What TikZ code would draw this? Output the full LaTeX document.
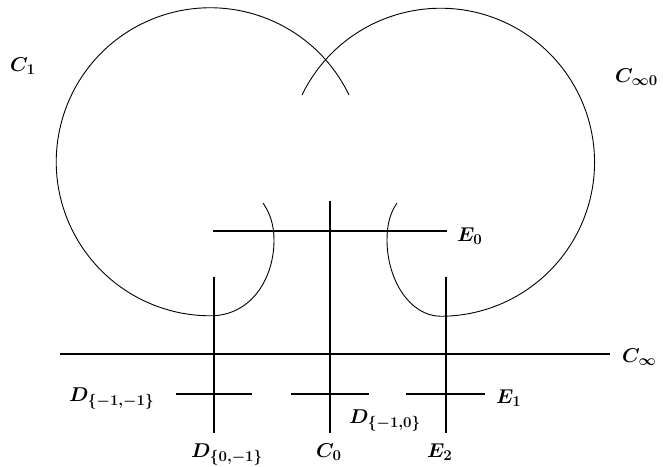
\RequirePackage{fix-cm}
\documentclass[tikz,border=0pt]{standalone}
\DeclareMathSizes{20}{20}{15}{12}
\begin{document}
\begin{tikzpicture}[x=1pt,y=1pt,
  curve/.style={line width=0.9pt},
  seg/.style={line width=1.1pt},
  lbl/.style={anchor=base west,inner sep=0pt,font=\fontsize{20}{22}\selectfont\boldmath}]
\useasboundingbox (0,0) rectangle (663,466);
% curves C_1 and C_{\infty 0}
\draw[curve] (349,371) arc[start angle=25.7,end angle=270,radius=154]
  .. controls (250,150) and (274,186) .. (274,226)
  .. controls (274,241) and (270,253) .. (263,263);
\draw[curve] (302,371) arc[start angle=154.1,end angle=-90,radius=154]
  .. controls (410,150) and (387,186) .. (387,226)
  .. controls (387,241) and (390,253) .. (397,263);
% coordinates
\coordinate (e0a) at (213,235); \coordinate (e0b) at (447,235);
\coordinate (c0t) at (330,265); \coordinate (c0b) at (330,33);
\coordinate (dlt) at (214,189); \coordinate (dlb) at (214,33);
\coordinate (e2t) at (446,189); \coordinate (e2b) at (446,33);
\coordinate (cia) at (60,112);  \coordinate (cib) at (610,112);
\coordinate (d1a) at (176,72);  \coordinate (d1b) at (252,72);
\coordinate (d2a) at (291,72);  \coordinate (d2b) at (369,72);
\coordinate (e1a) at (406,72);  \coordinate (e1b) at (485,72);
\draw[seg] (e0a) -- (e0b);
\draw[seg] (c0t) -- (c0b);
\draw[seg] (dlt) -- (dlb);
\draw[seg] (e2t) -- (e2b);
\draw[seg] (cia) -- (cib);
\draw[seg] (d1a) -- (d1b);
\draw[seg] (d2a) -- (d2b);
\draw[seg] (e1a) -- (e1b);
% labels
\node[lbl] (lC1) at (10,394) {$C_1$};
\node[lbl] (lCi0) at (615,383) {$C_{\infty 0}$};
\node[lbl] (lCi) at (622,104) {$C_\infty$};
\node[lbl] (lE0) at (457,224.5) {$E_0$};
\node[lbl] (lD11) at (69,65) {$D_{\{-1,-1\}}$};
\node[lbl] (lD01) at (191,9) {$D_{\{0,-1\}}$};
\node[lbl] (lC0) at (316,9) {$C_0$};
\node[lbl] (lE2) at (427,9) {$E_2$};
\node[lbl] (lD10) at (349,43) {$D_{\{-1,0\}}$};
\node[lbl] (lE1) at (496,63) {$E_1$};
\end{tikzpicture}
\end{document}
